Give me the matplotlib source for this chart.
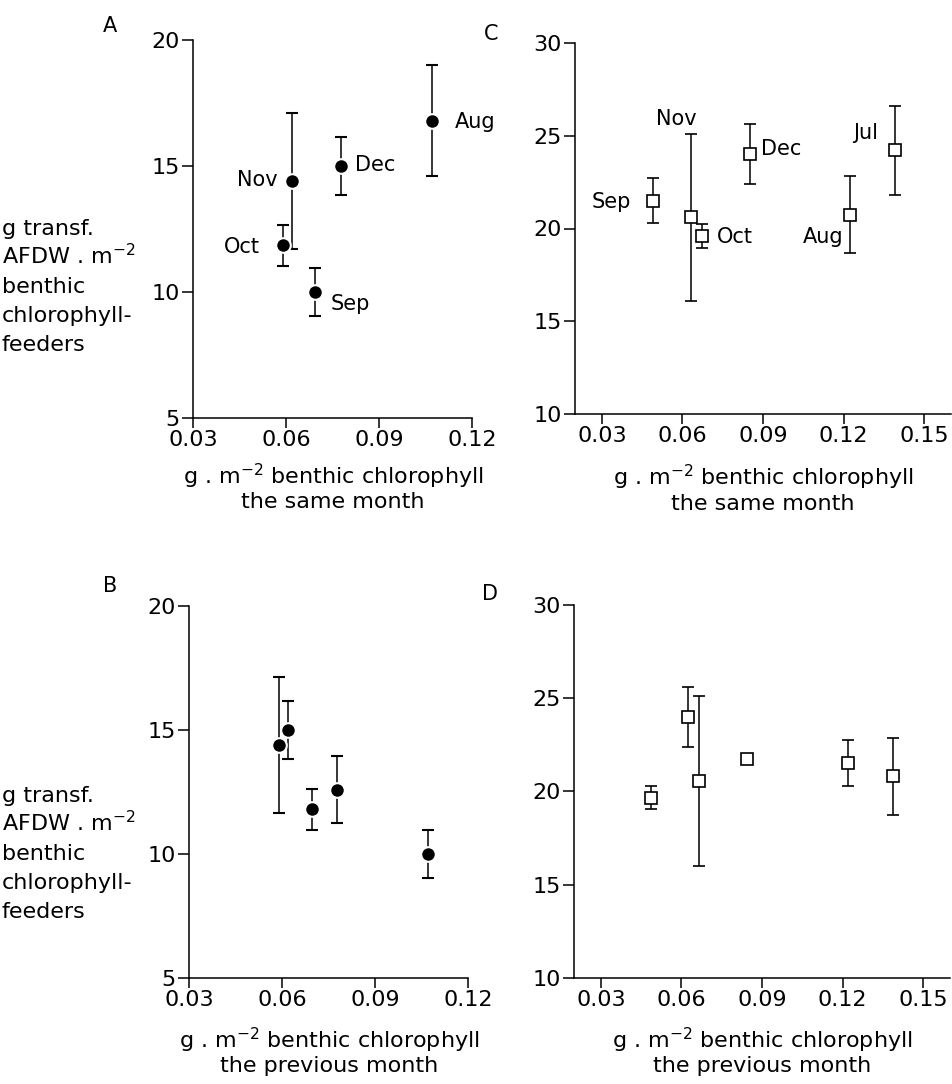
import matplotlib
matplotlib.use("Agg")
import matplotlib.pyplot as plt

plt.rcParams['font.family'] = ['DejaVu Sans']
plt.rcParams['mathtext.default'] = 'regular'

# ---------------- data ----------------
# Panel A: same month, filled circles
labels_A = ['Aug', 'Dec', 'Nov', 'Oct', 'Sep']
x_A = [0.107, 0.0777, 0.062, 0.059, 0.0694]
y_A = [16.8, 15.0, 14.4, 11.85, 10.0]
err_A = [2.2, 1.15, 2.7, 0.8, 0.95]

# Panel B: previous month, filled circles
x_B = [0.0591, 0.0618, 0.0696, 0.0776, 0.1072]
y_B = [14.4, 15.0, 11.8, 12.6, 10.0]
err_B = [2.75, 1.16, 0.84, 1.37, 0.98]

# Panel C: same month, open squares
labels_C = ['Sep', 'Nov', 'Oct', 'Dec', 'Aug', 'Jul']
x_C = [0.0491, 0.0631, 0.0672, 0.0852, 0.1224, 0.1392]
y_C = [21.5, 20.6, 19.6, 24.0, 20.75, 24.2]
err_C = [1.2, 4.5, 0.65, 1.6, 2.05, 2.4]

# Panel D: previous month, open squares
x_D = [0.0485, 0.0624, 0.0665, 0.0845, 0.122, 0.1388]
y_D = [19.65, 24.0, 20.55, 21.75, 21.5, 20.8]
err_D = [0.62, 1.6, 4.55, 0.0, 1.23, 2.05]

xticks_AB = [0.03, 0.06, 0.09, 0.12]
xticks_CD = [0.03, 0.06, 0.09, 0.12, 0.15]
yticks_AB = [5, 10, 15, 20]
yticks_CD = [10, 15, 20, 25, 30]

# ---------------- layout ----------------
W, H = 952, 1084
FS = 16
FS_LAB = 15
fig = plt.figure(figsize=(W / 100, H / 100), dpi=100)


def px_axes(x0, x1, ytop, ybot):
    return fig.add_axes([x0 / W, 1 - ybot / H, (x1 - x0) / W, (ybot - ytop) / H])


axA = px_axes(193, 472, 40, 418)
axB = px_axes(189, 468, 606, 978)
axC = px_axes(575, 951, 42.7, 414.3)
axD = px_axes(574, 950, 605, 977.7)

for ax in (axA, axB, axC, axD):
    for s in ('top', 'right'):
        ax.spines[s].set_visible(False)
    for s in ('left', 'bottom'):
        ax.spines[s].set_linewidth(1.1)
    ax.tick_params(axis='both', direction='out', width=1.1, labelsize=FS)
    ax.tick_params(axis='x', length=7.5, pad=1.0)
    ax.tick_params(axis='y', length=8, pad=1.5)
    ax.patch.set_alpha(0)

for ax in (axA, axB):
    ax.set_xlim(0.03, 0.12)
    ax.set_ylim(5, 20)
    ax.set_xticks(xticks_AB)
    ax.set_yticks(yticks_AB)
    ax.set_xticklabels(['%.2f' % v for v in xticks_AB])

for ax in (axC, axD):
    ax.set_xlim(0.02, 0.16)
    ax.set_ylim(10, 30)
    ax.set_xticks(xticks_CD)
    ax.set_yticks(yticks_CD)
    ax.set_xticklabels(['%.2f' % v for v in xticks_CD])

circle_kw = dict(fmt='o', color='black', ms=10.5, mfc='black', mec='white', mew=1.5,
                 elinewidth=1.1, capsize=4.6, capthick=1.1, ecolor='black', clip_on=False)
square_kw = dict(fmt='s', color='black', ms=8, mfc='white', mec='black', mew=1.2,
                 elinewidth=1.1, capsize=4.6, capthick=1.1, ecolor='black', clip_on=False)

axA.errorbar(x_A, y_A, yerr=err_A, **circle_kw)
axB.errorbar(x_B, y_B, yerr=err_B, **circle_kw)
axC.errorbar(x_C, y_C, yerr=err_C, **square_kw)
axD.errorbar(x_D, y_D, yerr=err_D, **square_kw)

# month labels: (dx, dy) in pixels from point to text baseline anchor
offs_A = {'Aug': (23, -7, 'left'), 'Dec': (14, -5, 'left'), 'Nov': (-15, -5, 'right'),
          'Oct': (-23, -8, 'right'), 'Sep': (15, -18, 'left')}
offs_C = {'Sep': (-22, -7, 'right'), 'Nov': (-14, 92, 'center'), 'Oct': (15, -7, 'left'),
          'Dec': (11, -1, 'left'), 'Aug': (-7, -28, 'right'), 'Jul': (-17, 11, 'right')}

for lab, xv, yv in zip(labels_A, x_A, y_A):
    dx, dy, ha = offs_A[lab]
    axA.annotate(lab, (xv, yv), xytext=(dx, dy), textcoords='offset pixels',
                 ha=ha, va='baseline', fontsize=FS_LAB)
for lab, xv, yv in zip(labels_C, x_C, y_C):
    dx, dy, ha = offs_C[lab]
    axC.annotate(lab, (xv, yv), xytext=(dx, dy), textcoords='offset pixels',
                 ha=ha, va='baseline', fontsize=FS_LAB)

# x-axis labels (two lines)
xl1 = r'g . m$^{-2}$ benthic chlorophyll'


def ftext(xp, yp, s, ha='center', fs=FS):
    fig.text(xp / W, 1 - yp / H, s, ha=ha, va='baseline', fontsize=fs)


ftext(333, 484, xl1)
ftext(333, 508, 'the same month')
ftext(763, 485, xl1)
ftext(763, 510, 'the same month')
ftext(329, 1048, xl1)
ftext(329, 1072, 'the previous month')
ftext(762, 1048, xl1)
ftext(762, 1072, 'the previous month')

# y-axis labels
ylines = ['g transf.', r'AFDW . m$^{-2}$', 'benthic', 'chlorophyll-', 'feeders']
for base in (235, 802):
    for i, s in enumerate(ylines):
        ftext(2, base + 29 * i, s, ha='left')

# panel letters
ftext(103, 32, 'A', ha='left', fs=FS_LAB)
ftext(484, 40, 'C', ha='left', fs=FS_LAB)
ftext(103, 592, 'B', ha='left', fs=FS_LAB)
ftext(482, 600, 'D', ha='left', fs=FS_LAB)

fig.savefig('out.png', dpi=100)
